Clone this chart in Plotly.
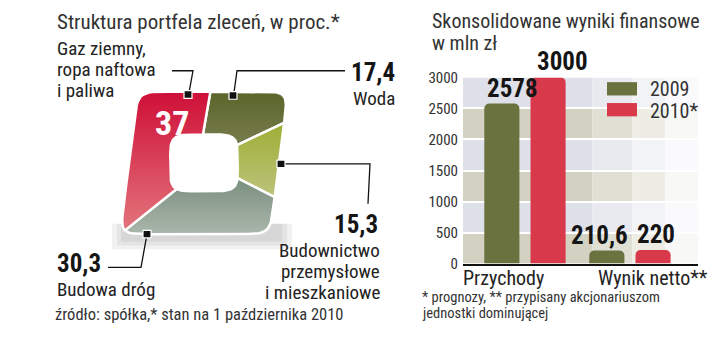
import numpy as np
import plotly.graph_objects as go

# ---------------- data ----------------
# Left chart: order portfolio structure (%), clockwise from the top
pie_labels = ["Woda", "Budownictwo przemysłowe i mieszkaniowe", "Budowa dróg",
              "Gaz ziemny, ropa naftowa i paliwa"]
pie_values = [17.4, 15.3, 30.3, 37.0]

# Right chart: consolidated financial results, mln zł
bar_categories = ["Przychody", "Wynik netto**"]
series_names = ["2009", "2010*"]
values_2009 = [2578, 210.6]
values_2010 = [3000, 220]
y_ticks = [0, 500, 1000, 1500, 2000, 2500, 3000]


def fmt(v):
    return f"{v:g}".replace(".", ",")


FONT = "Roboto Condensed, Liberation Sans Narrow, Roboto, sans-serif"
W, H = 720, 360


def px(x, y):
    return x / W, 1 - y / H


# ---------------- styles ----------------
seg_colors = [  # (bottom, top) colours for vertical gradient
    ("#777d4e", "#5b6429"),
    ("#bcc37c", "#9fae35"),
    ("#aab6ab", "#7a8f7e"),
    ("#e2747b", "#cf0f37"),
]
olive, red = "#6a7240", "#d83a4c"

fig = go.Figure()

# ---------------- square "donut" built from the pie values ----------------
def se_r(phi, a, b, n):
    return (np.abs(np.cos(phi) / a) ** n + np.abs(np.sin(phi) / b) ** n) ** (-1.0 / n)


skew = 0.12
cum = np.concatenate([[0], np.cumsum(pie_values)]) / sum(pie_values)
for i, lab in enumerate(pie_labels):
    t = np.linspace(cum[i], cum[i + 1], 80)
    phi = np.radians(92 - 360 * t)
    ro = se_r(phi, 1.0, 1.0, 12)
    xo = ro * np.cos(phi)
    yo = ro * np.sin(phi)
    xo = xo + skew * yo
    ri = se_r(phi, 0.45, 0.40, 5)
    xi = ri * np.cos(phi)
    yi = ri * np.sin(phi)
    xs = np.concatenate([xo, xi[::-1], xo[:1]])
    ys = np.concatenate([yo, yi[::-1], yo[:1]])
    fig.add_trace(go.Scatter(
        x=xs, y=ys, mode="lines", fill="toself",
        line=dict(color="white", width=2.5),
        fillgradient=dict(type="vertical",
                          colorscale=[[0, seg_colors[i][0]], [1, seg_colors[i][1]]]),
        name=lab, showlegend=False, hoverinfo="name",
        xaxis="x2", yaxis="y2"))

# ---------------- bars ----------------
BARGAP = 0.12
xpos = list(range(len(bar_categories)))
for name, vals, col in [(series_names[0], values_2009, olive),
                        (series_names[1], values_2010, red)]:
    fig.add_trace(go.Bar(
        x=xpos, y=vals, name=name, marker=dict(color=col, line=dict(width=0)),
        marker_cornerradius=5, showlegend=False, xaxis="x", yaxis="y"))

ann = []

# value labels above the bars
group_off = (1 - BARGAP) / 4
label_xshift = [[11, -7], [14, 3]]
for s, vals in enumerate([values_2009, values_2010]):
    for j, v in enumerate(vals):
        ann.append(dict(x=xpos[j] + (2 * s - 1) * group_off, y=v, xref="x", yref="y",
                        text=fmt(v), showarrow=False, xanchor="center", yanchor="bottom",
                        xshift=label_xshift[s][j], yshift=-1,
                        font=dict(family=FONT, size=25, color="#151515", weight="bold")))

shapes = []

# soft shadow under the square donut
for (x0, x1, y0, y1) in [(112, 292, 226, 253), (117, 287, 226, 249), (121, 282, 226, 245)]:
    a0, b0 = px(x0, y0)
    a1, b1 = px(x1, y1)
    shapes.append(dict(type="rect", xref="paper", yref="paper", x0=a0, x1=a1,
                       y0=b1, y1=b0, layer="below", line=dict(width=0),
                       fillcolor="rgba(60,60,60,0.07)"))

# background bands between gridlines, fading to the right
band_cols = [(211, 209, 193), (222, 225, 233)]
steps = [(0.0, 0.55, 0.0), (0.55, 0.72, 0.3), (0.72, 0.86, 0.6), (0.86, 1.0, 0.85)]
for k in range(len(y_ticks) - 1):
    base = band_cols[k % 2]
    for (a, b, f) in steps:
        c = tuple(int(round(v + (255 - v) * f)) for v in base)
        shapes.append(dict(type="rect", xref="x domain", yref="y", x0=a, x1=b,
                           y0=y_ticks[k], y1=y_ticks[k + 1], layer="below",
                           line=dict(width=0), fillcolor="rgb(%d,%d,%d)" % c))

# legend boxes
for (y0, y1, c) in [(77, 91, olive), (99, 113, red)]:
    x0p, y0p = px(607, y0)
    x1p, y1p = px(637, y1)
    shapes.append(dict(type="rect", xref="paper", yref="paper", x0=x0p, x1=x1p,
                       y0=y1p, y1=y0p, line=dict(width=0), fillcolor=c))


# leader lines
def polyline(points):
    d = ""
    for j, (x, y) in enumerate(points):
        X, Y = px(x, y)
        d += ("M" if j == 0 else "L") + f"{X:.5f},{Y:.5f}"
    shapes.append(dict(type="path", xref="paper", yref="paper", path=d,
                       line=dict(color="#111", width=1.3)))


def marker(x, y):
    x0p, y0p = px(x - 4, y - 4)
    x1p, y1p = px(x + 4, y + 4)
    shapes.append(dict(type="rect", xref="paper", yref="paper", x0=x0p, x1=x1p,
                       y0=y1p, y1=y0p, line=dict(color="white", width=1.2),
                       fillcolor="#111"))


polyline([(172, 65), (193, 65), (189, 88)])
marker(188, 90)
polyline([(345, 65), (237, 65), (234, 88)])
marker(233, 91)
polyline([(283, 163), (370, 163), (368, 205)])
marker(281, 163)
polyline([(147, 237), (141, 272), (108, 272)])
marker(147, 237)


# ---------------- text ----------------
def txt(x, y, s, size, anchor="left", bold=False, color="#222"):
    X, Y = px(x, y)
    ann.append(dict(x=X, y=Y, xref="paper", yref="paper", text=s, showarrow=False,
                    xanchor=anchor, yanchor="middle", align=anchor if anchor != "center" else "center",
                    font=dict(family=FONT, size=size, color=color,
                              weight="bold" if bold else "normal")))


LBL = 19
txt(55, 14, "Struktura portfela zleceń, w proc.*", 21, color="#333")
txt(55, 42, "Gaz ziemny,", LBL)
txt(55, 64, "ropa naftowa", LBL)
txt(55, 86, "i paliwa", LBL)
txt(397, 67, fmt(pie_values[0]), 25, "right", True, "#151515")
txt(397, 94, "Woda", LBL, "right")
txt(380, 227, fmt(pie_values[1]), 25, "right", True, "#151515")
txt(382, 254, "Budownictwo", LBL, "right")
txt(382, 276, "przemysłowe", LBL, "right")
txt(382, 298, "i mieszkaniowe", LBL, "right")
txt(55, 268, fmt(pie_values[2]), 25, "left", True, "#151515")
txt(55, 295, "Budowa dróg", LBL)
txt(53, 322, "źródło: spółka,* stan na 1 października 2010", 16.5, color="#333")
txt(172, 120, fmt(pie_values[3]), 34, "center", True, "white")

txt(430, 12.5, "Skonsolidowane wyniki finansowe", 20, color="#333")
txt(430, 36, "w mln zł", 20, color="#333")
txt(648, 84, series_names[0], 20, color="#333")
txt(648, 107, series_names[1], 20, color="#333")
txt(420, 304, "* prognozy, ** przypisany akcjonariuszom", 14.5, color="#333")
txt(420, 321, "jednostki dominującej", 14.5, color="#333")
# category labels
txt(461, 283, bar_categories[0], 20)
txt(596, 283, bar_categories[1], 20)

fig.update_layout(
    width=W, height=H, margin=dict(l=0, r=0, t=0, b=0),
    paper_bgcolor="white", plot_bgcolor="white",
    font=dict(family=FONT, color="#333"),
    barmode="group", bargap=BARGAP, bargroupgap=0.24,
    shapes=shapes, annotations=ann, showlegend=False,
    xaxis=dict(domain=[463 / W, 698 / W], range=[-0.59, 1.648],
               tickvals=xpos, ticktext=bar_categories, showticklabels=False,
               showline=True, linecolor="#111", linewidth=2, ticks="",
               showgrid=False, zeroline=False, fixedrange=True, anchor="y"),
    yaxis=dict(domain=[1 - 268 / H, 1 - 72 / H], range=[0, 3000],
               tickvals=y_ticks, tickfont=dict(size=15, color="#333"),
               showgrid=True, gridcolor="white", gridwidth=2, zeroline=False,
               ticks="", ticklabelstandoff=4, showline=False, fixedrange=True,
               anchor="x"),
    xaxis2=dict(domain=[100 / W, 310 / W], range=[(100 - 204) / 75, (310 - 204) / 75],
                visible=False, anchor="y2", fixedrange=True),
    yaxis2=dict(domain=[1 - 260 / H, 1 - 70 / H], range=[(162 - 260) / 75, (162 - 70) / 75],
                visible=False, anchor="x2", fixedrange=True),
)

fig.write_html("out.html", config={"displayModeBar": False},
               post_script="document.body.style.margin='0px';")
